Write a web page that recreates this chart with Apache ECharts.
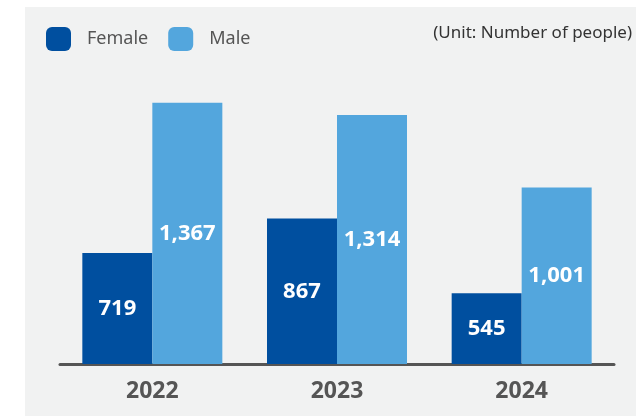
<!DOCTYPE html>
<html>
<head>
<meta charset="utf-8">
<script src="https://cdn.jsdelivr.net/npm/echarts@6/dist/echarts.min.js"></script>
<style>
  html, body { margin: 0; padding: 0; background: #ffffff; }
  #bg { position: absolute; left: 25px; top: 7px; right: 0; bottom: 0; background: #f1f2f2; }
  #main { position: absolute; left: 0; top: 0; width: 636px; height: 416px; }
</style>
</head>
<body>
<div id="bg"></div>
<div id="main"></div>
<script>
// data
var years = ['2022', '2023', '2024']
var female = [719, 867, 545]
var male = [1367, 1314, 1001]
var seriesNames = ['Female', 'Male']
var unitText = '(Unit: Number of people)'

var chartDom = document.getElementById('main')
var myChart = echarts.init(chartDom, null, { renderer: 'canvas' })

var fmt = function (p) {
  return p.value.toLocaleString('en-US')
}

var option = {
  backgroundColor: 'transparent',
  textStyle: { fontFamily: 'Noto Sans' },
  animation: false,
  color: ['#004f9f', '#53a6dd'],
  title: {
    text: unitText,
    right: 4,
    top: 25,
    padding: 0,
    textStyle: { fontSize: 17, fontWeight: 'normal', color: '#333333', fontFamily: 'Noto Sans' }
  },
  legend: {
    data: seriesNames,
    left: 46,
    top: 27,
    padding: 0,
    icon: 'roundRect',
    itemWidth: 25,
    itemHeight: 24,
    itemGap: 20,
    textStyle: { fontSize: 18, color: '#555555', padding: [0, 0, 0, 11], fontFamily: 'Noto Sans' }
  },
  grid: {
    left: 60,
    right: 22,
    top: 95,
    bottom: 52
  },
  xAxis: {
    type: 'category',
    data: years,
    axisTick: { show: false },
    axisLine: { lineStyle: { color: '#555555', width: 3 } },
    axisLabel: {
      margin: 16,
      fontSize: 23,
      fontWeight: 'bold',
      color: '#555555',
      fontFamily: 'Noto Sans'
    }
  },
  yAxis: {
    type: 'value',
    min: 240,
    max: 1400,
    show: false,
    splitLine: { show: false }
  },
  series: [
    {
      name: 'Female',
      type: 'bar',
      barWidth: 70,
      barGap: '0%',
      data: female,
      label: {
        show: true,
        position: 'inside',
        color: '#ffffff',
        fontSize: 22,
        fontWeight: 'bold',
        fontFamily: 'Noto Sans',
        formatter: fmt
      }
    },
    {
      name: 'Male',
      type: 'bar',
      barWidth: 70,
      data: male,
      label: {
        show: true,
        position: 'inside',
        color: '#ffffff',
        fontSize: 22,
        fontWeight: 'bold',
        fontFamily: 'Noto Sans',
        formatter: fmt
      }
    }
  ]
}

option && myChart.setOption(option)
</script>
</body>
</html>
